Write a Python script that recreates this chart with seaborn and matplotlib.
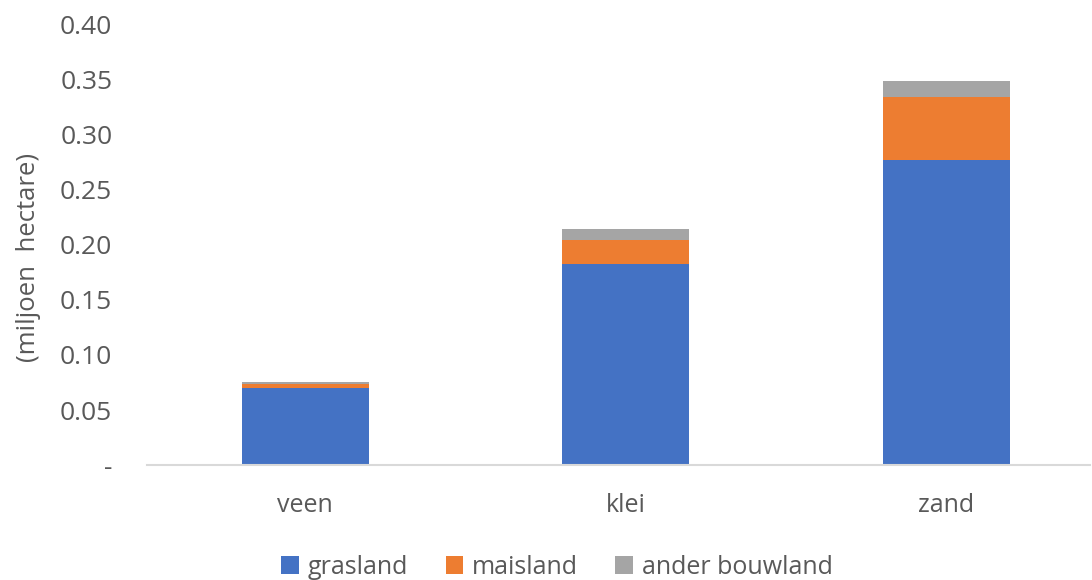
import matplotlib
matplotlib.use("Agg")
import matplotlib.pyplot as plt
from matplotlib.patches import Patch
from matplotlib.ticker import FixedLocator, FuncFormatter
import numpy as np
import pandas as pd
import seaborn as sns

# Land use per soil type (million hectare)
soil_types = ["veen", "klei", "zand"]
grasland = [0.070, 0.182, 0.277]
maisland = [0.004, 0.022, 0.057]
ander_bouwland = [0.001, 0.010, 0.014]

series_names = ["grasland", "maisland", "ander bouwland"]
series_colors = ["#4472C4", "#ED7D31", "#A5A5A5"]
y_ticks = [0.0, 0.05, 0.10, 0.15, 0.20, 0.25, 0.30, 0.35, 0.40]

sns.set_theme(style="white")
plt.rcParams["font.family"] = ["Open Sans", "DejaVu Sans"]
text_color = "#595959"

# Cumulative heights for stacking: draw the tallest layer first
layers = [grasland, maisland, ander_bouwland]
cumulative = np.cumsum(np.array(layers), axis=0)

fig = plt.figure(figsize=(10.92, 5.80), dpi=100)
ax = fig.add_axes([0.1346, 0.198, 0.864, 0.7606])

for idx in reversed(range(len(layers))):
    df = pd.DataFrame({"grond": soil_types, "waarde": cumulative[idx]})
    sns.barplot(data=df, x="grond", y="waarde", color=series_colors[idx],
                saturation=1, width=0.396, ax=ax, linewidth=0, order=soil_types)

ax.set_xlim(-0.493, 2.449)
ax.set_ylim(0, 0.40)
ax.yaxis.set_major_locator(FixedLocator(y_ticks))
ax.yaxis.set_major_formatter(
    FuncFormatter(lambda v, _: "-" if abs(v) < 1e-9 else f"{v:.2f}"))

for side in ["top", "right", "left"]:
    ax.spines[side].set_visible(False)
ax.spines["bottom"].set_color("#D9D9D9")
ax.spines["bottom"].set_linewidth(1.5)

ax.tick_params(axis="y", length=0, pad=25, labelsize=19, labelcolor=text_color)
ax.tick_params(axis="x", length=0, pad=20, labelsize=18, labelcolor=text_color)
for lbl in ax.get_yticklabels():
    lbl.set_horizontalalignment("right")

ax.set_xlabel("")
ax.set_ylabel("(miljoen  hectare)", fontsize=18.5, color=text_color)
ax.yaxis.set_label_coords(-0.112, 0.47)
ax.grid(False)

handles = [Patch(facecolor=c, edgecolor="none") for c in series_colors]
fig.legend(handles, series_names, loc="center", bbox_to_anchor=(0.51, 0.022),
           ncol=3, frameon=False, fontsize=18, handlelength=0.7,
           handleheight=0.7, handletextpad=0.35, columnspacing=1.5,
           labelcolor=text_color)

fig.savefig("out.png", dpi=100, facecolor="white")
